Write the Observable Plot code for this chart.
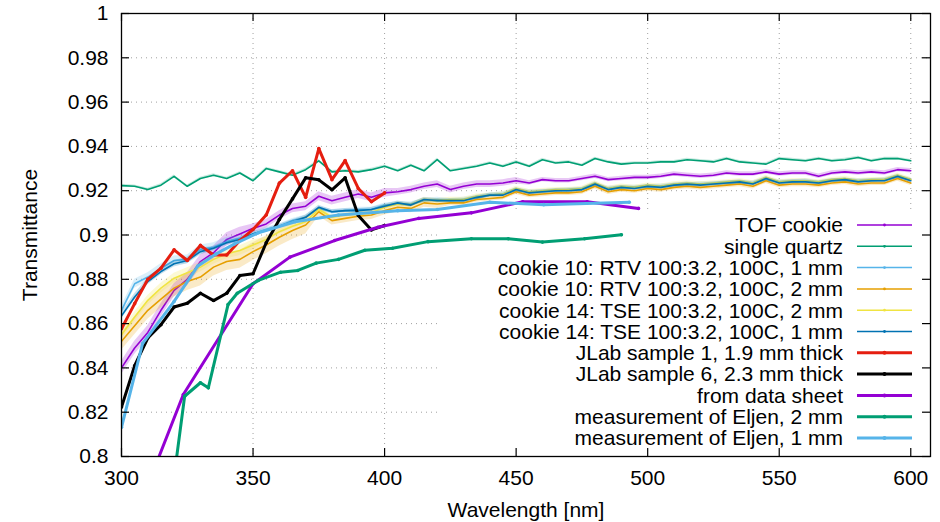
<!DOCTYPE html>
<html><head><meta charset="utf-8">
<script src="https://cdn.jsdelivr.net/npm/d3@7"></script>
<script src="https://cdn.jsdelivr.net/npm/@observablehq/plot@0.6"></script>
<style>body{margin:0;background:#fff}#chart{width:940px;height:522px}</style>
</head><body><div id="chart"></div>
<script>
// ---------- data ----------
const xTicks = [300, 350, 400, 450, 500, 550, 600];
const yTicks = [0.8, 0.82, 0.84, 0.86, 0.88, 0.9, 0.92, 0.94, 0.96, 0.98, 1];

const wl = [300,305,310,315,320,325,330,335,340,345,
            350,355,360,365,370,375,380,385,390,395,
            400,405,410,415,420,425,430,435,440,445,
            450,455,460,465,470,475,480,485,490,495,
            500,505,510,515,520,525,530,535,540,545,
            550,555,560,565,570,575,580,585,590,595,
            600];

const tofCookie = [0.840,0.849,0.856,0.866,0.875,0.880,0.888,0.892,0.898,0.9005,
  0.903,0.905,0.909,0.912,0.913,0.9175,0.9155,0.917,0.9185,0.917,
  0.919,0.9195,0.9205,0.922,0.923,0.9205,0.922,0.923,0.923,0.9235,
  0.9245,0.9235,0.925,0.9245,0.9245,0.9255,0.9265,0.925,0.9255,0.926,
  0.926,0.9265,0.9275,0.927,0.9265,0.927,0.928,0.9275,0.9275,0.9285,
  0.9275,0.928,0.928,0.9265,0.928,0.9285,0.928,0.9285,0.928,0.9295,
  0.929];
const tofErr = [0.003,0.003,0.003,0.003,0.003,0.003,0.003,0.003,0.003,0.003,
  0.002,0.002,0.002,0.002,0.002,0.002,0.002,0.002,0.002,0.002,
  0.002,0.0015,0.0015,0.0015,0.0015,0.0015,0.0015,0.0015,0.0015,0.0015,
  0.0015,0.001,0.001,0.001,0.001,0.001,0.001,0.001,0.001,0.001,
  0.001,0.001,0.001,0.001,0.001,0.001,0.001,0.001,0.001,0.001,
  0.001,0.001,0.001,0.001,0.001,0.001,0.001,0.001,0.001,0.001,
  0.001];

const singleQuartz = [0.9223,0.922,0.9205,0.9225,0.9265,0.922,0.9255,0.927,0.9255,0.928,
  0.9245,0.930,0.9285,0.927,0.9295,0.9335,0.9285,0.929,0.9285,0.9295,
  0.931,0.929,0.9315,0.929,0.934,0.929,0.930,0.931,0.9325,0.931,
  0.933,0.931,0.934,0.9325,0.933,0.9315,0.9345,0.933,0.932,0.9325,
  0.9325,0.933,0.933,0.934,0.9335,0.933,0.9345,0.933,0.9325,0.932,
  0.9345,0.934,0.9335,0.9345,0.9335,0.934,0.935,0.9335,0.9345,0.9345,
  0.9335];
const quartzErr = [0.0006,0.0006,0.0006,0.0006,0.0006,0.0006,0.0006,0.0006,0.0006,0.0006,
  0.0006,0.0006,0.0006,0.0006,0.0006,0.0006,0.0006,0.0006,0.0006,0.0006,
  0.0006,0.0006,0.0006,0.0006,0.0006,0.0006,0.0006,0.0006,0.0006,0.0006,
  0.0006,0.0006,0.0006,0.0006,0.0006,0.0006,0.0006,0.0006,0.0006,0.0006,
  0.0006,0.0006,0.0006,0.0006,0.0006,0.0006,0.0006,0.0006,0.0006,0.0006,
  0.0006,0.0006,0.0006,0.0006,0.0006,0.0006,0.0006,0.0006,0.0006,0.0006,
  0.0006];

const cookie10_1mm = [0.866,0.878,0.881,0.885,0.8885,0.889,0.8935,0.8945,0.897,0.8985,
  0.9005,0.9025,0.904,0.9065,0.908,0.912,0.9105,0.911,0.9115,0.9115,
  0.9135,0.914,0.914,0.9155,0.916,0.9155,0.916,0.9165,0.918,0.9185,
  0.920,0.9195,0.9195,0.920,0.9205,0.9205,0.9225,0.921,0.9215,0.9215,
  0.9215,0.922,0.9225,0.9225,0.923,0.923,0.9235,0.9235,0.9235,0.925,
  0.924,0.924,0.9245,0.9235,0.9245,0.9245,0.9245,0.9245,0.925,0.926,
  0.925];
const c10_1Err = [0.002,0.002,0.002,0.002,0.002,0.002,0.002,0.002,0.002,0.001,
  0.001,0.001,0.001,0.001,0.001,0.001,0.001,0.001,0.001,0.001,
  0.001,0.001,0.001,0.001,0.001,0.001,0.001,0.001,0.001,0.001,
  0.001,0.001,0.001,0.001,0.001,0.001,0.001,0.001,0.001,0.001,
  0.001,0.001,0.001,0.001,0.001,0.001,0.001,0.001,0.001,0.001,
  0.001,0.001,0.001,0.001,0.001,0.001,0.001,0.001,0.001,0.001,
  0.001];

const cookie10_2mm = [0.852,0.859,0.866,0.871,0.876,0.879,0.881,0.8855,0.888,0.889,
  0.8925,0.8955,0.899,0.902,0.9045,0.9105,0.9065,0.9075,0.9085,0.909,
  0.911,0.9125,0.912,0.9145,0.914,0.9145,0.9145,0.916,0.9165,0.917,
  0.9195,0.918,0.9185,0.919,0.919,0.9195,0.922,0.9195,0.9205,0.920,
  0.921,0.9205,0.9215,0.922,0.9215,0.922,0.9225,0.923,0.922,0.9245,
  0.9225,0.923,0.923,0.9225,0.9235,0.924,0.923,0.9235,0.9235,0.9255,
  0.9235];
const c10_2Err = [0.004,0.004,0.004,0.004,0.004,0.004,0.004,0.004,0.004,0.004,
  0.004,0.004,0.004,0.004,0.004,0.002,0.002,0.002,0.002,0.002,
  0.002,0.002,0.002,0.002,0.002,0.0012,0.0012,0.0012,0.0012,0.0012,
  0.0012,0.0012,0.0012,0.0012,0.0012,0.0012,0.0012,0.0012,0.0012,0.0012,
  0.0012,0.0012,0.0012,0.0012,0.0012,0.0012,0.0012,0.0012,0.0012,0.0012,
  0.0012,0.0012,0.0012,0.0012,0.0012,0.0012,0.0012,0.0012,0.0012,0.0012,
  0.0012];

const cookie14_2mm = [0.855,0.863,0.8705,0.876,0.8805,0.883,0.8855,0.889,0.8915,0.893,
  0.8955,0.898,0.9015,0.904,0.906,0.9115,0.908,0.909,0.9095,0.910,
  0.9125,0.914,0.9135,0.916,0.9155,0.916,0.916,0.9175,0.918,0.9185,
  0.921,0.9195,0.920,0.9205,0.9205,0.921,0.9235,0.921,0.922,0.9215,
  0.9225,0.922,0.923,0.9235,0.923,0.9235,0.924,0.9245,0.9235,0.926,
  0.924,0.9245,0.9245,0.924,0.925,0.9255,0.9245,0.925,0.925,0.927,
  0.925];
const c14_2Err = [0.0022,0.0022,0.0022,0.0022,0.0022,0.0022,0.0022,0.0022,0.0022,0.0022,
  0.0022,0.001,0.001,0.001,0.001,0.001,0.001,0.001,0.001,0.001,
  0.001,0.001,0.001,0.001,0.001,0.001,0.001,0.001,0.001,0.001,
  0.001,0.001,0.001,0.001,0.001,0.001,0.001,0.001,0.001,0.001,
  0.001,0.001,0.001,0.001,0.001,0.001,0.001,0.001,0.001,0.001,
  0.001,0.001,0.001,0.001,0.001,0.001,0.001,0.001,0.001,0.001,
  0.001];

const cookie14_1mm = [0.8635,0.872,0.879,0.8835,0.887,0.8885,0.8925,0.894,0.8965,0.898,
  0.9005,0.902,0.904,0.906,0.908,0.9125,0.9105,0.911,0.911,0.9115,
  0.913,0.9145,0.9135,0.916,0.9155,0.9155,0.9155,0.917,0.918,0.918,
  0.9205,0.919,0.9195,0.920,0.920,0.9205,0.923,0.9205,0.9215,0.921,
  0.922,0.9215,0.9225,0.923,0.9225,0.923,0.9235,0.924,0.923,0.9255,
  0.9235,0.924,0.924,0.9235,0.9245,0.925,0.924,0.9245,0.9245,0.9265,
  0.9245];
const c14_1Err = [0.0015,0.0015,0.0015,0.0015,0.0015,0.0015,0.0015,0.0009,0.0009,0.0009,
  0.0009,0.0009,0.0009,0.0009,0.0009,0.0009,0.0009,0.0009,0.0009,0.0009,
  0.0009,0.0009,0.0009,0.0009,0.0009,0.0009,0.0009,0.0009,0.0009,0.0009,
  0.0009,0.0009,0.0009,0.0009,0.0009,0.0009,0.0009,0.0009,0.0009,0.0009,
  0.0009,0.0009,0.0009,0.0009,0.0009,0.0009,0.0009,0.0009,0.0009,0.0009,
  0.0009,0.0009,0.0009,0.0009,0.0009,0.0009,0.0009,0.0009,0.0009,0.0009,
  0.0009];

const jlabWl = [300,305,310,315,320,325,330,335,340,345,350,355,360,365,370,375,380,385,390,395,400];
const jlab1 = [0.8577,0.869,0.880,0.885,0.8933,0.8885,0.8953,0.891,0.891,0.8975,0.9025,
  0.909,0.9234,0.929,0.917,0.939,0.925,0.9336,0.921,0.915,0.919];
const jlab6 = [0.8223,0.841,0.8535,0.8595,0.8675,0.8692,0.8737,0.8704,0.8737,0.8817,0.8825,
  0.8965,0.907,0.9163,0.9258,0.9249,0.9204,0.9258,0.9088,0.9023,0.9043];

const sheetWl = [310,323.5,350,364,381,397.5,413,433,452.5,477,496.5];
const sheetT  = [0.787,0.828,0.878,0.890,0.8975,0.9035,0.9075,0.910,0.915,0.915,0.912];

const eljen2Wl = [320,324,330,333,340.5,344,352,360.5,367,374,382.5,392.5,403,416.5,433,447,460,476,490];
const eljen2T  = [0.791,0.8272,0.8333,0.831,0.8686,0.8737,0.8795,0.8832,0.884,0.8873,0.889,
  0.8931,0.894,0.897,0.8983,0.8983,0.8968,0.8983,0.9001];

const eljen1Wl = [300,308,320,329,336,343,352,366,382.5,405,420,440,460.5,493];
const eljen1T  = [0.8132,0.851,0.870,0.886,0.8915,0.896,0.901,0.906,0.909,0.911,0.9115,0.9148,0.9137,0.9148];

const labels = ["TOF cookie", "single quartz", "cookie 10: RTV 100:3.2, 100C, 1 mm",
  "cookie 10: RTV 100:3.2, 100C, 2 mm", "cookie 14: TSE 100:3.2, 100C, 2 mm",
  "cookie 14: TSE 100:3.2, 100C, 1 mm", "JLab sample 1, 1.9 mm thick",
  "JLab sample 6, 2.3 mm thick", "from data sheet", "measurement of Eljen, 2 mm",
  "measurement of Eljen, 1 mm"];
const colors = ["#9400d3","#009e73","#56b4e9","#e69f00","#f0e442","#0072b2",
  "#e51e10","#000000","#9400d3","#009e73","#56b4e9"];

// ---------- layout ----------
const W = 940, H = 522, mL = 121, mR = 10, mT = 13, mB = 66;
const plotW = W - mL - mR, plotH = H - mT - mB;
const FONT = '"Liberation Sans", Arial, Helvetica, sans-serif';
const FS = 21;
const TICK = 8;

function band(vals, errs) { return wl.map((x, i) => ({x, y: vals[i], lo: vals[i] - errs[i], hi: vals[i] + errs[i]})); }
function pts(xs, ys) { return xs.map((x, i) => ({x, y: ys[i]})); }

const noisy = [
  [tofCookie, tofErr], [singleQuartz, quartzErr], [cookie10_1mm, c10_1Err],
  [cookie10_2mm, c10_2Err], [cookie14_2mm, c14_2Err], [cookie14_1mm, c14_1Err]
].map(([v, e], i) => ({data: band(v, e), color: colors[i]}));

const thick = [
  [jlabWl, jlab1], [jlabWl, jlab6], [sheetWl, sheetT], [eljen2Wl, eljen2T], [eljen1Wl, eljen1T]
].map(([xs, ys], i) => ({data: pts(xs, ys), color: colors[6 + i]}));

const keyBox = () => d3.create("svg:rect")
  .attr("x", 438).attr("y", 213).attr("width", W - mR - 438).attr("height", H - mB - 213)
  .attr("fill", "white").node();

const legend = () => {
  const g = d3.create("svg:g").attr("font-family", FONT).attr("font-size", FS);
  labels.forEach((name, i) => {
    const y = 225 + i * 21.3;
    const heavy = i >= 6;
    g.append("text").attr("x", 843).attr("y", y).attr("dy", "0.35em")
      .attr("text-anchor", "end").attr("fill", "black").text(name);
    g.append("line").attr("x1", 857).attr("x2", 912).attr("y1", y).attr("y2", y)
      .attr("stroke", colors[i]).attr("stroke-width", heavy ? 3 : 1.5);
    g.append("circle").attr("cx", 884.5).attr("cy", y).attr("r", heavy ? 2 : 1.4).attr("fill", colors[i]);
  });
  // axis titles
  g.append("text").attr("transform", `translate(37,235) rotate(-90)`)
    .attr("text-anchor", "middle").attr("fill", "black").text("Transmittance");
  g.append("text").attr("x", 526).attr("y", 517)
    .attr("text-anchor", "middle").attr("fill", "black").text("Wavelength [nm]");
  return g.node();
};

const grid = {stroke: "#a0a0a0", strokeOpacity: 1, strokeWidth: 1, strokeDasharray: "1,4"};

const chart = Plot.plot({
  width: W, height: H,
  marginLeft: mL, marginRight: mR, marginTop: mT, marginBottom: mB,
  style: {fontFamily: FONT, fontSize: FS + "px", background: "white", color: "black", overflow: "visible"},
  x: {domain: [300, 607.5], ticks: xTicks, tickSize: 0, tickPadding: 14, label: null},
  y: {domain: [0.8, 1], ticks: yTicks, tickSize: 0, tickPadding: 13, label: null,
      tickFormat: d => String(+d.toFixed(2))},
  marks: [
    Plot.ruleX(xTicks, {x: d => d, ...grid}),
    Plot.ruleY(yTicks, {y: d => d, ...grid}),
    keyBox,
    ...noisy.flatMap(s => [
      Plot.areaY(s.data, {x: "x", y1: "lo", y2: "hi", fill: s.color, fillOpacity: 0.22, clip: true}),
      Plot.line(s.data, {x: "x", y: "y", stroke: s.color, strokeWidth: 1.6, clip: true})
    ]),
    ...thick.flatMap(s => [
      Plot.line(s.data, {x: "x", y: "y", stroke: s.color, strokeWidth: 3, clip: true}),
      Plot.dot(s.data, {x: "x", y: "y", r: 1.8, fill: s.color, clip: true})
    ]),
    Plot.ruleX(xTicks, {x: d => d, insetTop: plotH - TICK, stroke: "black", strokeWidth: 1.2}),
    Plot.ruleX(xTicks, {x: d => d, insetBottom: plotH - TICK, stroke: "black", strokeWidth: 1.2}),
    Plot.ruleY(yTicks, {y: d => d, insetRight: plotW - TICK, stroke: "black", strokeWidth: 1.2}),
    Plot.ruleY(yTicks, {y: d => d, insetLeft: plotW - TICK, stroke: "black", strokeWidth: 1.2}),
    Plot.frame({stroke: "black", strokeWidth: 1.3}),
    legend
  ]
});
document.getElementById("chart").appendChild(chart);
</script>
</body></html>
